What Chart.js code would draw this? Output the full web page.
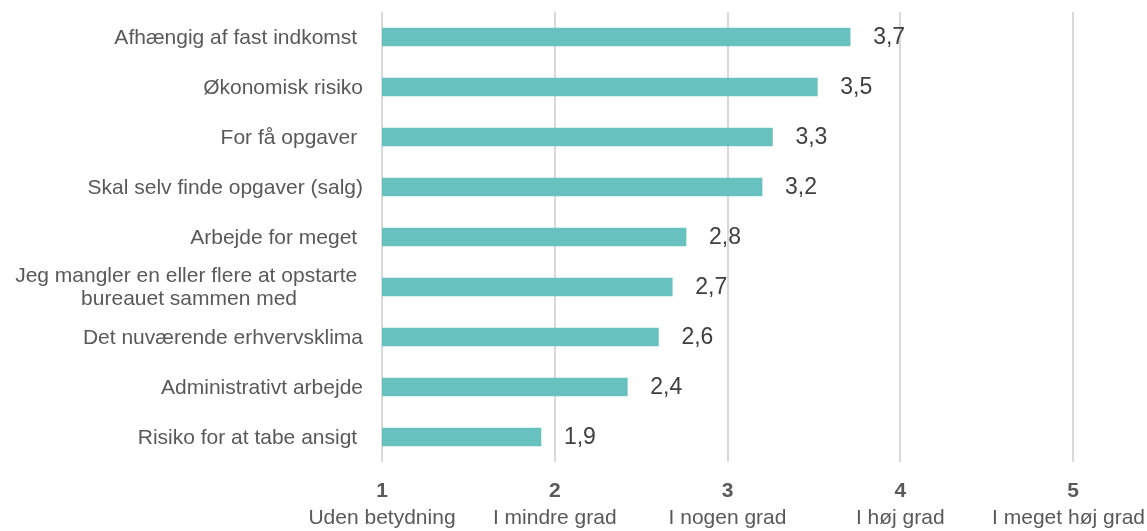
<!DOCTYPE html>
<html>
<head>
<meta charset="utf-8">
<script src="https://cdn.jsdelivr.net/npm/chart.js@4/dist/chart.umd.min.js"></script>
<style>
html,body{margin:0;padding:0;background:#fff;}
canvas{display:block;}
</style>
</head>
<body>
<canvas id="c" width="1147" height="531"></canvas>
<script>
const categories = [
  ['Afhængig af fast indkomst '],
  ['Økonomisk risiko'],
  ['For få opgaver '],
  ['Skal selv finde opgaver (salg)'],
  ['Arbejde for meget '],
  ['Jeg mangler en eller flere at opstarte ', 'bureauet sammen med'],
  ['Det nuværende erhvervsklima'],
  ['Administrativt arbejde'],
  ['Risiko for at tabe ansigt ']
];
const values = [3.71, 3.52, 3.26, 3.20, 2.76, 2.68, 2.60, 2.42, 1.92];
const tickValues = [1, 2, 3, 4, 5];
const tickNumbers = ['1', '2', '3', '4', '5'];
const tickTexts = ['Uden betydning', 'I mindre grad', 'I nogen grad', 'I høj grad', 'I meget høj grad'];

const FONT = "'Liberation Sans', Arial, sans-serif";
const TEXT = '#595959';

const labelPlugin = {
  id: 'labels',
  afterDraw(chart) {
    const ctx = chart.ctx;
    const meta = chart.getDatasetMeta(0);
    const xs = chart.scales.x, ys = chart.scales.y;
    ctx.save();
    // value labels
    ctx.font = '23px ' + FONT;
    ctx.fillStyle = '#404040';
    ctx.textAlign = 'left';
    ctx.textBaseline = 'middle';
    meta.data.forEach((el, i) => {
      const t = values[i].toFixed(1).replace('.', ',');
      ctx.fillText(t, el.x + 23, el.y + 1);
    });
    // category labels
    ctx.font = '21px ' + FONT;
    ctx.fillStyle = TEXT;
    ctx.textAlign = 'center';
    const right = 363, lh = 23;
    categories.forEach((lines, i) => {
      const cy = ys.getPixelForValue(i);
      const w = Math.max(...lines.map(l => ctx.measureText(l).width));
      const cx = right - w / 2;
      const y0 = cy - (lines.length - 1) * lh / 2;
      lines.forEach((l, j) => {
        ctx.fillText(l, cx, y0 + j * lh + 1);
      });
    });
    // x tick labels
    const maxRight = 1145;
    tickValues.forEach((v, i) => {
      const x = xs.getPixelForValue(v);
      ctx.font = 'bold 21px ' + FONT;
      ctx.fillText(tickNumbers[i], x, 491);
      ctx.font = '21px ' + FONT;
      const tw = ctx.measureText(tickTexts[i]).width;
      const tx = Math.min(x, maxRight - tw / 2);
      ctx.fillText(tickTexts[i], tx, 518);
    });
    ctx.restore();
  }
};

new Chart(document.getElementById('c'), {
  type: 'bar',
  data: {
    labels: categories.map(l => l.join(' ')),
    datasets: [{
      data: values,
      backgroundColor: '#67c1be',
      barThickness: 18,
      borderWidth: 0
    }]
  },
  options: {
    indexAxis: 'y',
    responsive: false,
    animation: false,
    layout: { padding: { top: 12, right: 74, left: 0, bottom: 0 } },
    plugins: { legend: { display: false }, tooltip: { enabled: false } },
    scales: {
      x: {
        min: 1, max: 5,
        ticks: { display: false, stepSize: 1 },
        grid: { color: '#d9d9d9', lineWidth: 2, drawTicks: false },
        border: { display: false },
        afterFit(s) { s.height = 69; }
      },
      y: {
        ticks: { display: false },
        grid: { display: false },
        border: { display: false },
        afterFit(s) { s.width = 382; }
      }
    }
  },
  plugins: [labelPlugin]
});
</script>
</body>
</html>
